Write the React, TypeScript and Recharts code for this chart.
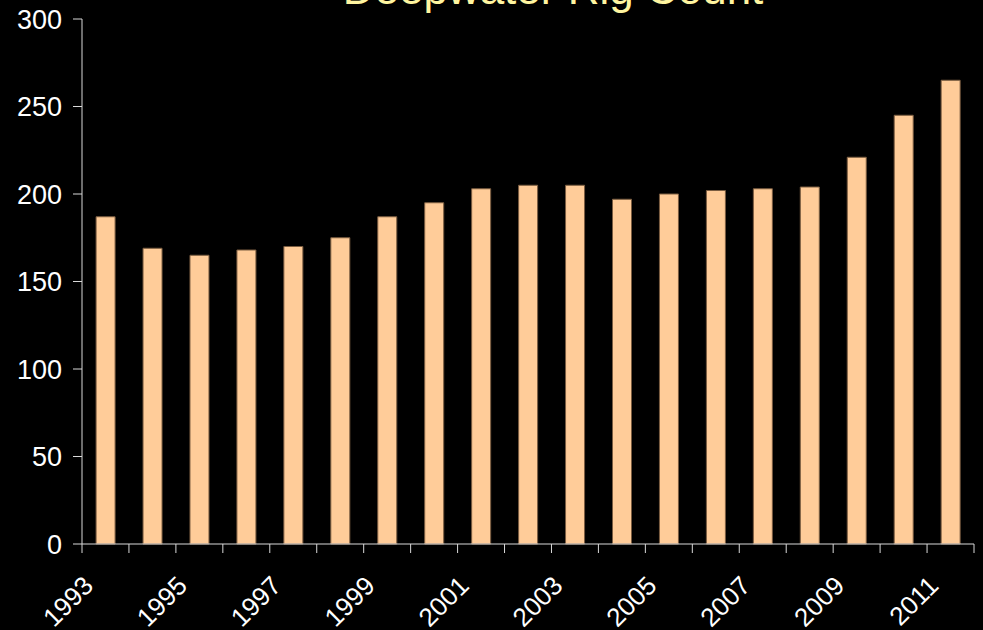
import React from 'react';
import { BarChart, Bar, XAxis, YAxis, ReferenceLine } from 'recharts';

const years = ['1993', '1994', '1995', '1996', '1997', '1998', '1999', '2000', '2001', '2002', '2003', '2004', '2005', '2006', '2007', '2008', '2009', '2010', '2011'];
const rigCount = [187, 169, 165, 168, 170, 175, 187, 195, 203, 205, 205, 197, 200, 202, 203, 204, 221, 245, 265];
const yTicks = [0, 50, 100, 150, 200, 250, 300];
const title = 'Deepwater Rig Count';

const data = years.map((year, i) => ({ year, count: rigCount[i] }));

const FONT = '"Liberation Sans", Arial, sans-serif';
const AXIS_COLOR = '#D9D9D9';

const XTick = (props: any) => {
  const { x, y, payload } = props;
  const ax = x - 17;
  const ay = y + 37;
  return (
    <text
      x={ax}
      y={ay}
      transform={`rotate(-45, ${ax}, ${ay})`}
      textAnchor="end"
      dominantBaseline="central"
      fill="#FFFFFF"
      fontSize={26}
      fontFamily={FONT}
    >
      {payload.value}
    </text>
  );
};

const boundaryMark = (p: any) => {
  const yb = Math.max(p.y1, p.y2);
  return <line x1={p.x1} x2={p.x1} y1={yb} y2={yb + 9} stroke={AXIS_COLOR} strokeWidth={1} />;
};

export default function App() {
  return (
    <div
      style={{
        position: 'absolute',
        left: 0,
        top: 0,
        width: 983,
        height: 630,
        background: '#000000',
        overflow: 'hidden',
      }}
    >
      <div
        style={{
          position: 'absolute',
          left: 553,
          top: -33,
          transform: 'translateX(-50%)',
          whiteSpace: 'nowrap',
          fontFamily: FONT,
          fontSize: 44,
          lineHeight: 1,
          color: '#FFF5A0',
        }}
      >
        {title}
      </div>
      <BarChart
        width={983}
        height={630}
        data={data}
        margin={{ top: 19, right: 9, left: 0, bottom: 0 }}
        barCategoryGap="30%"
      >
        <XAxis
          xAxisId="cat"
          dataKey="year"
          type="category"
          height={86}
          interval={1}
          axisLine={{ stroke: AXIS_COLOR, strokeWidth: 1 }}
          tickLine={false}
          tickSize={0}
          tickMargin={0}
          tick={<XTick />}
        />
        <YAxis
          width={82}
          domain={[0, 300]}
          ticks={yTicks}
          interval={0}
          tickSize={9}
          tickMargin={11}
          axisLine={{ stroke: AXIS_COLOR, strokeWidth: 1 }}
          tickLine={{ stroke: AXIS_COLOR, strokeWidth: 1 }}
          tick={{ fill: '#FFFFFF', fontSize: 27, fontFamily: FONT }}
        />
        <Bar
          xAxisId="cat"
          dataKey="count"
          fill="#FFCC99"
          stroke="#7A5C40"
          strokeWidth={1}
          isAnimationActive={false}
        />
        {years.map((yr) => (
          <ReferenceLine
            key={`s-${yr}`}
            xAxisId="cat"
            x={yr}
            position="start"
            ifOverflow="visible"
            shape={boundaryMark}
          />
        ))}
        <ReferenceLine
          xAxisId="cat"
          x={years[years.length - 1]}
          position="end"
          ifOverflow="visible"
          shape={boundaryMark}
        />
      </BarChart>
    </div>
  );
}
